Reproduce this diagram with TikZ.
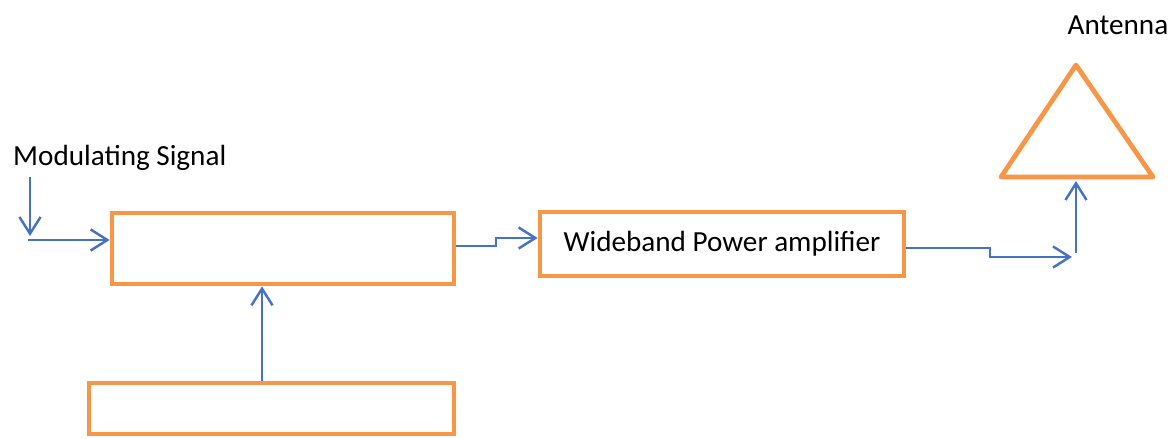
\documentclass[tikz,border=0pt]{standalone}
\usepackage{fontspec}
\setmainfont{Carlito}
\usetikzlibrary{arrows.meta}
\definecolor{boxorange}{RGB}{247,150,70}
\definecolor{wireblue}{RGB}{68,114,196}
\begin{document}
\begin{tikzpicture}[
    font=\fontsize{16.6}{20}\selectfont,
    block/.style={draw=boxorange,line width=2.7pt,inner sep=0pt,outer sep=1.35pt},
    wire/.style={draw=wireblue,line width=1.4pt,-{Straight Barb[length=9.5pt,width=12pt,line width=1.4pt]}}]
      \useasboundingbox (0,0) rectangle (23.52,-8.78);
      \node[block,minimum width=6.84cm,minimum height=1.42cm] (mod) at (5.66,-4.97) {};
      \node[block,minimum width=7.28cm,minimum height=1.28cm] (amp) at (14.44,-4.88) {Wideband Power amplifier};
      \node[block,minimum width=7.3cm,minimum height=1.02cm] (osc) at (5.43,-8.17) {};
      \draw[boxorange,line width=2.7pt,line join=round] (21.52,-1.3) -- (20.02,-3.54) -- (23.06,-3.54) -- cycle;
      \coordinate (ant) at (21.52,-3.62);
      \node[anchor=west] (sig) at (0.14,-3.16) {Modulating Signal};
      \node (antlbl) at (22.36,-0.5) {Antenna};
      \coordinate (sigtop) at (0.6,-3.54);
      \coordinate (sigin) at (0.56,-4.8);
      \coordinate (feed) at (21.52,-5.06);
      \draw[wire] (sigtop) -- (0.6,-4.72);
      \draw[wire] (sigin) -- (sigin -| mod.west);
      \draw[wire] (mod.east |- 0,-4.92) -- (9.92,-4.92) -- (9.92,-4.76) -- (amp.west |- 0,-4.76);
      \draw[wire] (amp.east |- 0,-4.96) -- (19.8,-4.96) -- (19.8,-5.14) -- (21.44,-5.14);
      \draw[wire] (feed) -- (ant);
      \draw[wire] (osc.north -| 5.24,0) -- (mod.south -| 5.24,0);
    \end{tikzpicture}
\end{document}
